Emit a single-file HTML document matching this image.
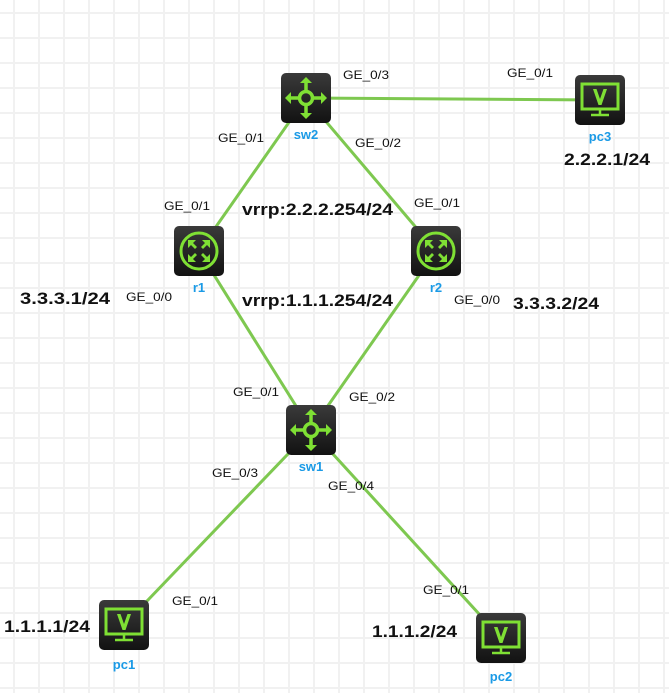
<!DOCTYPE html>
<html><head><meta charset="utf-8"><style>
html,body{margin:0;padding:0;background:#fff}
svg{display:block}
text{font-family:"Liberation Sans",Arial,sans-serif}
.ge{font-size:12px;fill:#111}
.ip{font-size:17px;font-weight:bold;fill:#111}
.nm{font-size:13px;font-weight:bold;fill:#1a9ae6}
</style></head><body>
<svg width="669" height="693" viewBox="0 0 669 693" xmlns="http://www.w3.org/2000/svg">
<defs>
<pattern id="g" x="13" y="12" width="25" height="25" patternUnits="userSpaceOnUse">
<rect x="0" y="0" width="2" height="25" fill="#f1f1f1"/><rect x="0" y="0" width="25" height="2" fill="#f1f1f1"/>
</pattern>
<linearGradient id="bg" x1="0" y1="0" x2="0" y2="1"><stop offset="0" stop-color="#3a3a3a"/><stop offset="1" stop-color="#121212"/></linearGradient>
<g id="sw">
<rect x="-25" y="-25" width="50" height="50" rx="5" fill="url(#bg)"/>
<g stroke="#7fe034" stroke-width="3.5" fill="none">
<circle r="6.5"/>
<path d="M0-6.5V-17M0 6.5V17M-6.5 0H-17M6.5 0H17"/>
</g>
<g fill="#7fe034"><path d="M0-21l-6 6h12z"/><path d="M0 21l-6-6h12z"/><path d="M-21 0l6-6v12z"/><path d="M21 0l-6-6v12z"/></g>
</g>
<g id="rt">
<rect x="-25" y="-25" width="50" height="50" rx="5" fill="url(#bg)"/>
<circle r="18" stroke="#7fe034" stroke-width="3" fill="none"/>
<g fill="#7fe034"><path d="M-11-11h8l-3 3 4 4-2 2-4-4-3 3z"/><path d="M11-11v8l-3-3-4 4-2-2 4-4-3-3z"/><path d="M-11 11v-8l3 3 4-4 2 2-4 4 3 3z"/><path d="M11 11h-8l3-3-4-4 2-2 4 4 3-3z"/></g>
</g>
<g id="pc">
<rect x="-25" y="-25" width="50" height="50" rx="5" fill="url(#bg)"/>
<rect x="-18" y="-16" width="36" height="25" fill="none" stroke="#7fe034" stroke-width="3"/>
<path d="M-7-11L-1.5 5h3L7-11h-3.5L0-1-3.5-11z" fill="#7fe034"/>
<path d="M0 9v5M-9 15h18" stroke="#7fe034" stroke-width="2.5"/>
</g>
</defs>
<rect width="669" height="693" fill="url(#g)"/>
<g stroke="#7ec850" stroke-width="3">
<line x1="306" y1="98" x2="600" y2="100"/>
<line x1="306" y1="98" x2="199" y2="251"/>
<line x1="306" y1="98" x2="436" y2="251"/>
<line x1="199" y1="251" x2="311" y2="430"/>
<line x1="436" y1="251" x2="311" y2="430"/>
<line x1="311" y1="430" x2="124" y2="625"/>
<line x1="311" y1="430" x2="501" y2="638"/>
</g>
<use href="#sw" x="306" y="98"/>
<use href="#sw" x="311" y="430"/>
<use href="#rt" x="199" y="251"/>
<use href="#rt" x="436" y="251"/>
<use href="#pc" x="600" y="100"/>
<use href="#pc" x="124" y="625"/>
<use href="#pc" x="501" y="638"/>
<text class="nm" x="306" y="139" text-anchor="middle">sw2</text>
<text class="nm" x="311" y="471" text-anchor="middle">sw1</text>
<text class="nm" x="199" y="292" text-anchor="middle">r1</text>
<text class="nm" x="436" y="292" text-anchor="middle">r2</text>
<text class="nm" x="600" y="141" text-anchor="middle">pc3</text>
<text class="nm" x="124" y="669" text-anchor="middle">pc1</text>
<text class="nm" x="501" y="681" text-anchor="middle">pc2</text>
<g class="ge" lengthAdjust="spacingAndGlyphs">
<text class="ge" x="343" y="79" textLength="46" lengthAdjust="spacingAndGlyphs">GE_0/3</text>
<text class="ge" x="507" y="77" textLength="46" lengthAdjust="spacingAndGlyphs">GE_0/1</text>
<text class="ge" x="218" y="142" textLength="46" lengthAdjust="spacingAndGlyphs">GE_0/1</text>
<text class="ge" x="355" y="147" textLength="46" lengthAdjust="spacingAndGlyphs">GE_0/2</text>
<text class="ge" x="164" y="210" textLength="46" lengthAdjust="spacingAndGlyphs">GE_0/1</text>
<text class="ge" x="414" y="207" textLength="46" lengthAdjust="spacingAndGlyphs">GE_0/1</text>
<text class="ge" x="126" y="301" textLength="46" lengthAdjust="spacingAndGlyphs">GE_0/0</text>
<text class="ge" x="454" y="304" textLength="46" lengthAdjust="spacingAndGlyphs">GE_0/0</text>
<text class="ge" x="233" y="396" textLength="46" lengthAdjust="spacingAndGlyphs">GE_0/1</text>
<text class="ge" x="349" y="401" textLength="46" lengthAdjust="spacingAndGlyphs">GE_0/2</text>
<text class="ge" x="212" y="477" textLength="46" lengthAdjust="spacingAndGlyphs">GE_0/3</text>
<text class="ge" x="328" y="490" textLength="46" lengthAdjust="spacingAndGlyphs">GE_0/4</text>
<text class="ge" x="172" y="605" textLength="46" lengthAdjust="spacingAndGlyphs">GE_0/1</text>
<text class="ge" x="423" y="594" textLength="46" lengthAdjust="spacingAndGlyphs">GE_0/1</text>
</g>
<text class="ip" x="564" y="165" textLength="86" lengthAdjust="spacingAndGlyphs">2.2.2.1/24</text>
<text class="ip" x="242" y="215" textLength="151" lengthAdjust="spacingAndGlyphs">vrrp:2.2.2.254/24</text>
<text class="ip" x="242" y="306" textLength="151" lengthAdjust="spacingAndGlyphs">vrrp:1.1.1.254/24</text>
<text class="ip" x="20" y="304" textLength="90" lengthAdjust="spacingAndGlyphs">3.3.3.1/24</text>
<text class="ip" x="513" y="309" textLength="86" lengthAdjust="spacingAndGlyphs">3.3.3.2/24</text>
<text class="ip" x="4" y="632" textLength="86" lengthAdjust="spacingAndGlyphs">1.1.1.1/24</text>
<text class="ip" x="372" y="637" textLength="85" lengthAdjust="spacingAndGlyphs">1.1.1.2/24</text>
</svg>
</body></html>
